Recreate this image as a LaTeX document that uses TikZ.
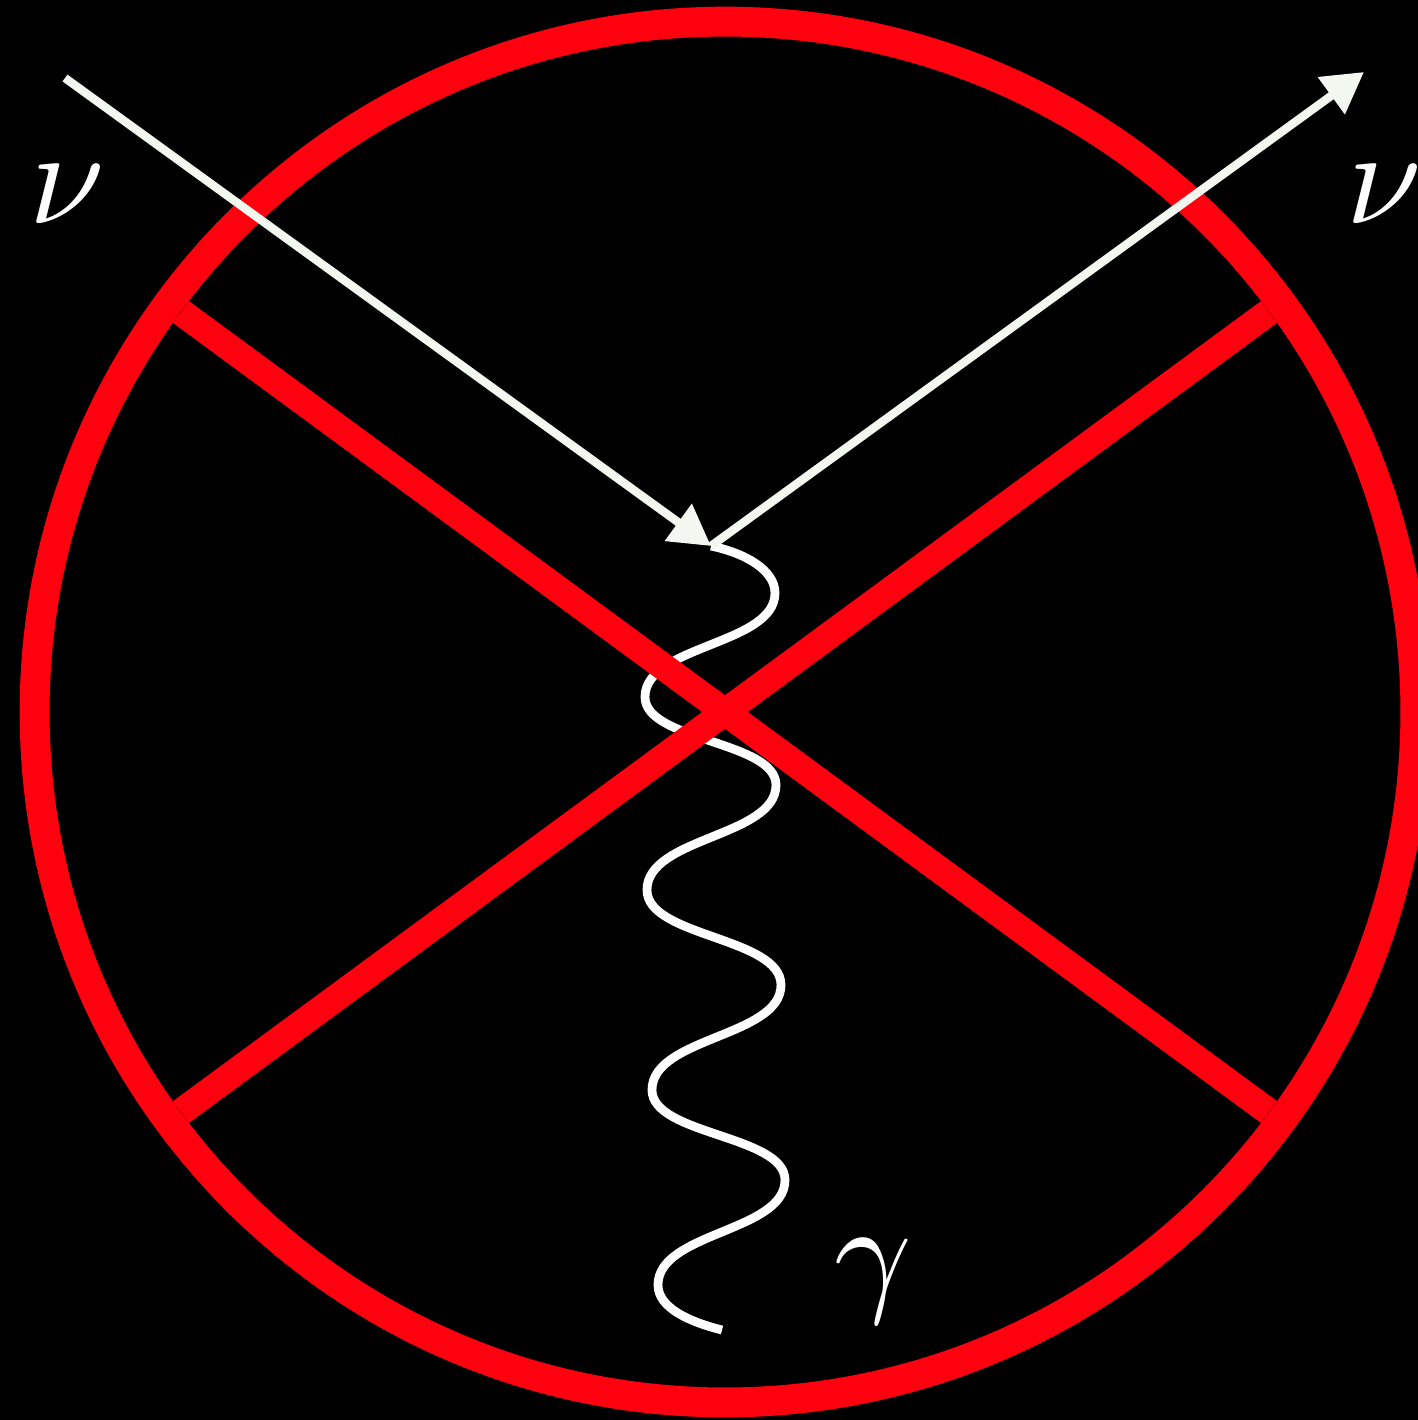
\documentclass[tikz,border=0pt]{standalone}
\usepackage{fontspec}
\setmainfont{Liberation Serif}
\usetikzlibrary{arrows.meta}
\definecolor{ringred}{RGB}{255,0,14}
\definecolor{linewhite}{RGB}{242,247,240}
\tikzset{
  ring/.style={draw=ringred, line width=8.5pt},
  crossbar/.style={draw=ringred, line width=7.7pt, line cap=butt},
  fermion/.style={draw=linewhite, line width=2.4pt, line cap=butt,
    -{Triangle[length=11.5pt,width=12.5pt]}},
  photon/.style={draw=white, line width=2.5pt, line cap=butt},
  lbl/.style={text=white, font=\fontsize{10}{12}\selectfont, scale=3.85, inner sep=0pt, anchor=base}
}
\begin{document}
\begin{tikzpicture}[x=0.01cm, y=-0.01cm]
\fill[black] (0,0) rectangle (1418,1420);
\useasboundingbox (0,0) rectangle (1418,1420);
\clip (0,0) rectangle (1418,1420);
% coordinates
\coordinate (c) at (725,712);
\coordinate (xa) at (181,312);
\coordinate (xb) at (1269,1112);
\coordinate (xc) at (1269,312);
\coordinate (xd) at (181,1112);
\coordinate (nuin) at (65,78);
\coordinate (vtx) at (711,546);
\coordinate (nuout) at (1364,72);
\coordinate (gend) at (722,1330);
% ring
\draw[ring] (c) circle [radius=6.9cm];
% photon
\draw[photon] (vtx) .. controls (745,553) and (775,570) .. (775,593)
  .. controls (775,645) and (645,645) .. (645,697)
  .. controls (645,741) and (776,741) .. (776,785)
  .. controls (776,837) and (647,837) .. (647,890)
  .. controls (647,937) and (781,937) .. (781,985)
  .. controls (781,1037) and (652,1037) .. (652,1090)
  .. controls (652,1135) and (785,1135) .. (785,1180)
  .. controls (785,1232) and (658,1232) .. (658,1285)
  .. controls (658,1308) and (690,1322) .. (gend);
% cross
\draw[crossbar] (xa) -- (xb);
\draw[crossbar] (xc) -- (xd);
% neutrino lines
\draw[fermion] (nuin) -- (vtx);
\draw[fermion] (vtx) -- (nuout);
% labels
\node[lbl] (nu1) at (67,223) {$\nu$};
\node[lbl] (nu2) at (1384,223) {$\nu$};
\node[lbl] (gam) at (873,1297) {$\gamma$};
\end{tikzpicture}
\end{document}
